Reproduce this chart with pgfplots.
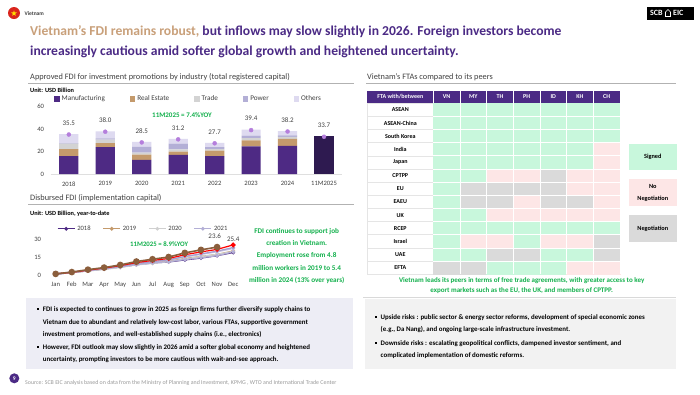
\documentclass[border=0pt]{standalone}
\usepackage{pgfplots}
\pgfplotsset{compat=1.18}
\usepackage{fontspec}
\setmainfont{Carlito}
\usetikzlibrary{shapes.geometric}
\definecolor{scbpurple}{HTML}{4B2A85}
\definecolor{scbgold}{HTML}{C9A07A}
\definecolor{fgreen}{HTML}{12B04C}
\definecolor{txtgray}{HTML}{404040}
\definecolor{cManu}{HTML}{4E2A84}
\definecolor{cRE}{HTML}{C49A6C}
\definecolor{cTrade}{HTML}{D3D3D3}
\definecolor{cPower}{HTML}{B3AFD6}
\definecolor{cOther}{HTML}{DEDAF0}
\definecolor{cDark}{HTML}{2E1A50}
\definecolor{cDot}{HTML}{B57EDC}
\definecolor{tGreen}{HTML}{C8F7DC}
\definecolor{tPink}{HTML}{FDE6E6}
\definecolor{tGray}{HTML}{DADADA}
\definecolor{boxL}{HTML}{EDEDF5}
\definecolor{boxR}{HTML}{F2F2F2}
\definecolor{flagred}{HTML}{DA251D}
\definecolor{flagyellow}{HTML}{FFDD00}
\definecolor{l2018}{HTML}{4E2A84}
\definecolor{l2019}{HTML}{C49A6C}
\definecolor{l2020}{HTML}{D0D0D0}
\definecolor{l2021}{HTML}{B3AFD6}
\definecolor{l2022}{HTML}{C9C4E4}
\definecolor{l2023}{HTML}{A49CCB}
\definecolor{l2024}{HTML}{FF0000}
\definecolor{l2025}{HTML}{8B5E3C}
\newcommand{\fs}[2]{\fontsize{#1bp}{#2bp}\selectfont}

\begin{document}
\begin{tikzpicture}
\begin{scope}[x=1bp,y=-1bp]
\useasboundingbox (0,0) rectangle (700,394);
\fill[white] (0,0) rectangle (700,394);
% ---------- header
\fill[flagred] (14,13) circle (6);
\node[star,star points=5,star point ratio=2.5,fill=flagyellow,draw=none,inner sep=0pt,minimum size=6bp] at (14,13.4) {};
\node[anchor=mid west,font=\fs{5.5}{6}\bfseries,text=txtgray] at (21,13) {Vietnam};
\fill[black] (647,7) rectangle (694,20);
\node[anchor=mid west,font=\fs{8}{9}\bfseries,text=white,inner sep=0] at (650,13.5) {SCB};
\draw[white,line width=0.6bp] (665.5,16.5) -- (665.5,12) -- (668,9.5) -- (670.5,12) -- (670.5,16.5) -- cycle;
\node[anchor=mid west,font=\fs{8}{9}\bfseries,text=white,inner sep=0] at (673,13.5) {EIC};
% title
\node[anchor=mid west,font=\fs{13.6}{16}\bfseries,inner sep=0] at (30,33) {\textcolor{scbgold}{Vietnam’s FDI remains robust,} \textcolor{scbpurple}{but inflows may slow slightly in 2026. Foreign investors become}};
\node[anchor=mid west,font=\fs{13.6}{16}\bfseries,inner sep=0,text=scbpurple] at (30,53) {increasingly cautious amid softer global growth and heightened uncertainty.};
% ---------- section headings
\node[anchor=mid west,font=\fs{8.3}{9},text=txtgray,inner sep=0] at (30,77.5) {Approved FDI for investment promotions by industry (total registered capital)};
\draw[gray!60,line width=0.8bp] (28,83.3) -- (354,83.3);
\node[anchor=mid west,font=\fs{6.3}{7}\bfseries,text=black,inner sep=0] at (30,90.5) {Unit: USD Billion};
\node[anchor=mid west,font=\fs{7}{8}\bfseries,text=fgreen,inner sep=0] at (152,115) {11M2025 = 7.4\%YOY};

\node[anchor=mid west,font=\fs{8.3}{9},text=txtgray,inner sep=0] at (30,198.3) {Disbursed FDI (implementation capital)};
\draw[gray!60,line width=0.8bp] (28,204) -- (354,204);
\node[anchor=mid west,font=\fs{6.3}{7}\bfseries,text=black,inner sep=0] at (30,213.3) {Unit: USD Billion, year-to-date};
\node[font=\fs{7.2}{12.2}\bfseries,text=fgreen,align=center,inner sep=0] at (296.7,256) {FDI continues to support job\\creation in Vietnam.\\Employment rose from 4.8\\million workers in 2019 to 5.4\\million in 2024 (13\% over years)};
\node[anchor=mid west,font=\fs{6.8}{8}\bfseries,text=fgreen,inner sep=0] at (130,244) {11M2025 = 8.9\%YOY};

\node[anchor=mid west,font=\fs{8.3}{9},text=txtgray,inner sep=0] at (367,76.7) {Vietnam's FTAs compared to its peers};
\draw[gray!60,line width=0.8bp] (366,83.3) -- (676,83.3);
% table header
\fill[scbpurple] (367.3,90.7) rectangle (620,103.3);
\foreach \k in {0,...,6} {\draw[white,line width=0.8bp] ({433.3+26.67*\k},90.7) -- ({433.3+26.67*\k},103.3);}
\node[font=\fs{6}{7}\bfseries,text=white] at (400.3,97) {FTA with/between};
\foreach \c [count=\i from 0] in {VN,MY,TH,PH,ID,KH,CH} {\node[font=\fs{6}{7}\bfseries,text=white] at ({446.6+26.67*\i},97) {\c};}
\foreach \r [count=\i from 0] in {ASEAN,ASEAN-China,South Korea,India,Japan,CPTPP,EU,EAEU,UK,RCEP,Israel,UAE,EFTA} {
  \draw[gray!20,line width=0.8bp,fill=white] (367.3,{103.3+13.154*\i}) rectangle (433.3,{103.3+13.154*(\i+1)});
  \node[font=\fs{6}{7}\bfseries,text=black] at (400.3,{109.9+13.154*\i}) {\r};
}
% legend boxes
\fill[tGreen] (629,144) rectangle (676.7,170.3);
\node[font=\fs{6.3}{7.5}\bfseries,text=black] at (652.8,157.2) {Signed};
\fill[tPink] (629,179) rectangle (676.7,206);
\node[font=\fs{6.3}{12}\bfseries,text=black,align=center] at (652.8,192.5) {No\\Negotiation};
\fill[tGray] (629,215) rectangle (676.7,242.3);
\node[font=\fs{6.3}{7.5}\bfseries,text=black] at (652.8,228.6) {Negotiation};
\node[font=\fs{7}{10}\bfseries,text=fgreen,align=center] at (521.7,285.7) {Vietnam leads its peers in terms of free trade agreements, with greater access to key\\export markets such as the EU, the UK, and members of CPTPP.};
\draw[gray!30,line width=0.8bp] (363,297) -- (676,297);
% ---------- bottom boxes
\fill[boxL] (26,298.3) rectangle (352.7,369);
\fill[boxR] (365,299) rectangle (676,369);
\foreach \y in {309.3,346.7} {\fill[black] (37.3,\y-1) rectangle (39.3,\y+1);}
\foreach \y/\t in {309.3/{FDI is expected to continues to grow in 2025 as foreign firms further diversify supply chains to},
  322.3/{Vietnam due to abundant and relatively low-cost labor, various FTAs, supportive government},
  334/{investment promotions, and well-established supply chains (i.e., electronics)},
  346.7/{However, FDI outlook may slow slightly in 2026 amid a softer global economy and heightened},
  359/{uncertainty, prompting investors to be more cautious with wait-and-see approach.}}
  {\node[anchor=mid west,font=\fs{6.9}{8}\bfseries,text=black,inner sep=0] at (42.7,\y) {\t};}
\foreach \y in {317,343} {\fill[black] (374.5,\y-1) rectangle (376.5,\y+1);}
\foreach \y/\t in {317/{Upside risks : public sector \& energy sector reforms, development of special economic zones},
  329/{(e.g., Da Nang), and ongoing large-scale infrastructure investment.},
  343/{Downside risks : escalating geopolitical conflicts, dampened investor sentiment, and},
  355/{complicated implementation of domestic reforms.}}
  {\node[anchor=mid west,font=\fs{6.9}{8}\bfseries,text=black,inner sep=0] at (380.5,\y) {\t};}
% footer
\fill[scbpurple] (14.3,378.3) circle (5);
\node[font=\fs{5.5}{6}\bfseries,text=white] at (14.3,378.5) {9};
\node[anchor=mid west,font=\fs{5.9}{7},text=gray!80,inner sep=0] at (25,381.7) {Source: SCB EIC analysis based on data from the Ministry of Planning and Investment, KPMG , WTO and International Trade Center};
\end{scope}

% ================= bar chart
\begin{axis}[
  at={(50.57bp,-174bp)}, anchor=south west,
  scale only axis, width=291.7bp, height=67.5bp,
  xmin=-0.5, xmax=7.5, ymin=0, ymax=60,
  ybar stacked, bar width=19.2bp,
  xtick={0,...,7}, xticklabels={2018,2019,2020,2021,2022,2023,2024,11M2025},
  ytick={0,20,40,60},
  axis x line*=bottom, axis y line*=left,
  y axis line style={draw=none}, x axis line style={draw=gray!25,line width=0.8bp,-},
  major tick length=0pt,
  /pgf/number format/assume math mode=true,
  tick label style={font=\fs{6.6}{7},text=txtgray},
  yticklabel style={xshift=-3bp},
  xticklabel style={yshift=-4bp},
  legend style={at={(0.012,1.11)}, anchor=west, draw=none, fill=none, font=\fs{7.2}{8}, text=txtgray,
    legend columns=-1, /tikz/every even column/.append style={column sep=23bp}, inner sep=0pt},
  legend image code/.code={\fill[#1] (0bp,-2.7bp) rectangle (5.4bp,2.7bp);},
  clip=false,
]
\addplot[fill=cManu, draw=none] coordinates {(0,16.0)(1,23.9)(2,12.5)(3,16.9)(4,16.0)(5,24.5)(6,25.0)(7,0)};
\addlegendentry{Manufacturing}
\addplot[fill=cRE, draw=none] coordinates {(0,6.1)(1,3.5)(2,4.7)(3,2.9)(4,4.7)(5,5.5)(6,6.2)(7,0)};
\addlegendentry{Real Estate}
\addplot[fill=cTrade, draw=none] coordinates {(0,5.0)(1,3.2)(2,1.7)(3,2.1)(4,1.4)(5,2.0)(6,1.7)(7,0)};
\addlegendentry{Trade}
\addplot[fill=cPower, draw=none] coordinates {(0,0.4)(1,1.0)(2,5.3)(3,5.2)(4,1.8)(5,2.1)(6,1.5)(7,0)};
\addlegendentry{Power}
\addplot[fill=cOther, draw=none] coordinates {(0,8.0)(1,6.4)(2,4.3)(3,4.1)(4,3.8)(5,5.3)(6,3.8)(7,0)};
\addlegendentry{Others}
\addplot[fill=cDark, draw=none, forget plot] coordinates {(0,0)(1,0)(2,0)(3,0)(4,0)(5,0)(6,0)(7,33.7)};
\end{axis}
\begin{axis}[
  at={(50.57bp,-174bp)}, anchor=south west,
  scale only axis, width=291.7bp, height=67.5bp,
  xmin=-0.5, xmax=7.5, ymin=0, ymax=60, hide axis, clip=false,
]
\addplot[only marks, mark=*, mark size=2bp, color=cDot] coordinates {(0,35.1)(1,37.6)(2,28.1)(3,30.8)(4,27.3)(5,39.0)(6,37.8)(7,33.1)};
\foreach \t/\v [count=\i from 0] in {35.5/45.3,38.0/47.8,28.5/38.3,31.2/41.0,27.7/37.5,39.4/49.2,38.2/48.0,33.7/43.5}
  {\edef\tmp{\noexpand\node[font=\noexpand\fs{7}{8},text=txtgray] at (axis cs:\i,\v) {\t};}\tmp}
\end{axis}

% ================= line chart
\begin{axis}[
  at={(47.6bp,-275.7bp)}, anchor=south west,
  scale only axis, width=193.7bp, height=36.4bp,
  xmin=0.5, xmax=12.5, ymin=0, ymax=30,
  xtick={1,...,12}, xticklabels={Jan,Feb,Mar,Apr,May,Jun,Jul,Aug,Sep,Oct,Nov,Dec},
  ytick={0,15,30},
  axis x line*=bottom, axis y line*=left,
  axis line style={draw=none},
  major tick length=0pt,
  /pgf/number format/assume math mode=true,
  tick label style={font=\fs{6.6}{7},text=txtgray},
  yticklabel style={xshift=-3bp},
  xticklabel style={yshift=-3bp},
  legend style={at={(0.048,1.29)}, anchor=west, draw=none, fill=none, font=\fs{6.6}{7}, text=txtgray,
    legend columns=-1, /tikz/every even column/.append style={column sep=10bp}, inner sep=0pt},
  every axis plot/.append style={line width=1.2bp, mark=*, mark size=1.2bp},
  clip=false,
]
\addplot[color=l2018] coordinates {(1,1.25)(2,2.55)(3,4.0)(4,5.5)(5,7.2)(6,9.0)(7,10.5)(8,11.3)(9,13.0)(10,14.5)(11,16.5)(12,19.1)};
\addlegendentry{2018}
\addplot[color=l2019] coordinates {(1,1.5)(2,2.8)(3,4.1)(4,5.6)(5,7.3)(6,9.1)(7,10.6)(8,12.0)(9,14.2)(10,15.9)(11,17.6)(12,20.4)};
\addlegendentry{2019}
\addplot[color=l2020] coordinates {(1,1.3)(2,2.7)(3,3.9)(4,5.2)(5,6.7)(6,8.9)(7,10.1)(8,11.5)(9,13.8)(10,15.8)(11,17.6)(12,20.0)};
\addlegendentry{2020}
\addplot[color=l2021] coordinates {(1,1.6)(2,3.0)(3,4.1)(4,5.7)(5,7.2)(6,9.1)(7,10.6)(8,11.6)(9,13.3)(10,14.8)(11,16.5)(12,19.7)};
\addlegendentry{2021}
\addplot[color=l2022] coordinates {(1,1.7)(2,3.1)(3,4.4)(4,6.0)(5,7.7)(6,10.1)(7,11.6)(8,12.8)(9,15.4)(10,17.5)(11,19.7)(12,22.4)};
\addplot[color=l2023] coordinates {(1,1.3)(2,2.7)(3,4.4)(4,5.9)(5,7.6)(6,10.0)(7,11.6)(8,13.1)(9,15.9)(10,18.0)(11,20.3)(12,23.2)};
\addplot[color=l2024, mark size=1.8bp] coordinates {(1,1.5)(2,2.8)(3,4.6)(4,6.3)(5,8.3)(6,10.8)(7,12.6)(8,14.2)(9,17.3)(10,19.6)(11,21.7)(12,25.4)};
\addplot[color=l2025, line width=1.6bp, mark size=2.5bp] coordinates {(1,1.5)(2,3.0)(3,5.0)(4,6.7)(5,8.9)(6,11.7)(7,13.6)(8,15.4)(9,18.8)(10,21.3)(11,23.6)};
\node[font=\fs{7}{8},text=txtgray] at (axis cs:10.85,32.4) {23.6};
\node[font=\fs{7}{8},text=txtgray] at (axis cs:12,30.2) {25.4};
\end{axis}

% ================= FTA table (matrix)
\pgfplotsset{colormap={fta}{rgb255=(200,247,220) rgb255=(253,230,230) rgb255=(218,218,218)}}
\begin{axis}[
  at={(526.65bp,-188.8bp)}, anchor=center,
  scale only axis, width=186.7bp, height=171bp,
  xmin=-0.5, xmax=6.5, ymin=-0.5, ymax=12.5, y dir=reverse,
  hide axis, colormap name=fta, colormap access=direct,
  clip=false,
]
\addplot[matrix plot*, mesh/cols=7, point meta=explicit] table[meta=c] {
x y c
0 0 0
1 0 0
2 0 0
3 0 0
4 0 0
5 0 0
6 0 0
0 1 0
1 1 0
2 1 0
3 1 0
4 1 0
5 1 0
6 1 0
0 2 0
1 2 0
2 2 0
3 2 0
4 2 0
5 2 0
6 2 0
0 3 0
1 3 0
2 3 0
3 3 0
4 3 0
5 3 0
6 3 1
0 4 0
1 4 0
2 4 0
3 4 0
4 4 0
5 4 0
6 4 1
0 5 0
1 5 0
2 5 1
3 5 1
4 5 2
5 5 1
6 5 1
0 6 0
1 6 2
2 6 2
3 6 2
4 6 2
5 6 1
6 6 1
0 7 0
1 7 2
2 7 2
3 7 1
4 7 2
5 7 2
6 7 1
0 8 0
1 8 0
2 8 1
3 8 1
4 8 1
5 8 1
6 8 1
0 9 0
1 9 0
2 9 0
3 9 0
4 9 0
5 9 0
6 9 0
0 10 0
1 10 1
2 10 1
3 10 0
4 10 1
5 10 1
6 10 2
0 11 0
1 11 0
2 11 2
3 11 2
4 11 0
5 11 0
6 11 2
0 12 2
1 12 2
2 12 0
3 12 0
4 12 0
5 12 1
6 12 1
};
\foreach \k in {0,...,6} {\edef\tmp{\noexpand\draw[white,line width=0.9bp] (axis cs:\k+0.5,-0.5) -- (axis cs:\k+0.5,12.5);}\tmp}
\foreach \k in {0,...,11} {\edef\tmp{\noexpand\draw[white,line width=0.9bp] (axis cs:-0.5,\k+0.5) -- (axis cs:6.5,\k+0.5);}\tmp}
\end{axis}
\end{tikzpicture}
\end{document}
